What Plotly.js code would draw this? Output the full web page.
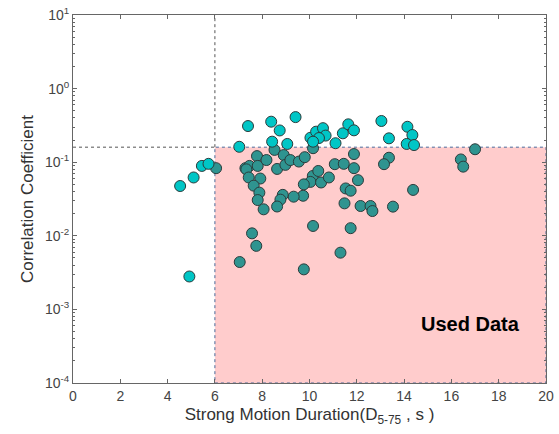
<!DOCTYPE html>
<html>
<head>
<meta charset="utf-8">
<script src="https://cdn.plot.ly/plotly-3.0.1.min.js"></script>
<style>html,body{margin:0;padding:0;background:#fff;}#chart{width:559px;height:434px;}</style>
</head>
<body>
<div id="chart"></div>
<script>
// Points outside the used region (cyan)
const outX = [4.53, 5.10, 5.45, 5.73, 4.92, 7.40, 7.03, 8.38, 9.41, 8.74, 8.42, 9.06, 10.04, 10.28, 10.57, 10.68, 10.40, 10.15, 11.10, 11.41, 11.64, 11.88, 13.04, 13.36, 14.14, 14.35, 14.11, 14.42];
const outY = [0.0475, 0.062, 0.089, 0.095, 0.0028, 0.31, 0.162, 0.355, 0.41, 0.27, 0.19, 0.177, 0.215, 0.26, 0.29, 0.23, 0.213, 0.19, 0.181, 0.247, 0.327, 0.271, 0.363, 0.211, 0.303, 0.234, 0.177, 0.171];
// Points inside the used region (teal)
const inX = [6.05, 7.78, 7.29, 7.46, 7.81, 7.33, 7.43, 7.92, 7.64, 7.88, 7.81, 8.06, 7.57, 7.75, 7.05, 8.18, 8.52, 8.63, 8.91, 8.98, 9.19, 9.55, 9.80, 10.14, 10.37, 10.04, 9.76, 10.49, 10.82, 9.73, 9.33, 8.87, 8.77, 8.63, 11.07, 11.45, 11.88, 11.88, 12.05, 11.53, 11.74, 11.48, 12.16, 12.58, 12.66, 13.53, 11.74, 11.31, 10.15, 9.76, 13.36, 13.15, 16.40, 16.50, 14.38, 17.00, 10.15];
const inY = [0.083, 0.121, 0.083, 0.089, 0.089, 0.080, 0.062, 0.060, 0.048, 0.0386, 0.0306, 0.0229, 0.0108, 0.0073, 0.0044, 0.107, 0.147, 0.081, 0.125, 0.092, 0.107, 0.102, 0.117, 0.065, 0.076, 0.054, 0.050, 0.053, 0.062, 0.035, 0.034, 0.036, 0.031, 0.025, 0.094, 0.095, 0.129, 0.083, 0.057, 0.044, 0.041, 0.0276, 0.0254, 0.0254, 0.0217, 0.0249, 0.0127, 0.0059, 0.0136, 0.0035, 0.115, 0.094, 0.109, 0.087, 0.042, 0.150, 0.155];
// Thresholds
const durationMin = 6;
const durationMax = 20;
const corrThreshold = 0.16;
// Tick labels
const yTickVals = [1e-4, 1e-3, 1e-2, 1e-1, 1, 10];
const yTickText = ['10<sup>-4</sup>', '10<sup>-3</sup>', '10<sup>-2</sup>', '10<sup>-1</sup>', '10<sup>0</sup>', '10<sup>1</sup>'];
const xTickVals = [0, 2, 4, 6, 8, 10, 12, 14, 16, 18, 20];
const yMinorVals = [2e-4,3e-4,4e-4,5e-4,6e-4,7e-4,8e-4,9e-4,2e-3,3e-3,4e-3,5e-3,6e-3,7e-3,8e-3,9e-3,2e-2,3e-2,4e-2,5e-2,6e-2,7e-2,8e-2,9e-2,0.2,0.3,0.4,0.5,0.6,0.7,0.8,0.9,2,3,4,5,6,7,8,9];

const font = 'Liberation Sans, Arial, sans-serif';
const axisCommon = {
  showline: true, linecolor: '#666', linewidth: 1, mirror: 'ticks',
  ticks: 'inside', tickcolor: '#666', ticklen: 4, showgrid: false, zeroline: false,
  tickfont: {family: font, size: 14, color: '#444'}
};

const traces = [
  {x: inX, y: inY, type: 'scatter', mode: 'markers', cliponaxis: false,
   marker: {size: 11, color: '#2f9490', line: {color: '#2b3b3b', width: 1}}, showlegend: false},
  {x: outX, y: outY, type: 'scatter', mode: 'markers', cliponaxis: false,
   marker: {size: 11, color: '#00c6c6', line: {color: '#2b3b3b', width: 1}}, showlegend: false}
];

const layout = {
  width: 559, height: 434,
  margin: {l: 73, r: 13, t: 15, b: 51},
  paper_bgcolor: '#fff', plot_bgcolor: '#fff',
  font: {family: font},
  xaxis: Object.assign({}, axisCommon, {
    range: [0, 20], tickvals: xTickVals,
    title: {text: 'Strong Motion Duration(D<sub>5-75</sub> , s )', font: {family: font, size: 17, color: '#333'}, standoff: 5}
  }),
  yaxis: Object.assign({}, axisCommon, {
    type: 'log', range: [-4, 1], tickvals: yTickVals, ticktext: yTickText,
    minor: {tickvals: yMinorVals, ticks: 'inside', ticklen: 2, tickcolor: '#666', showgrid: false},
    title: {text: 'Correlation Coefficient', font: {family: font, size: 17, color: '#333'}, standoff: 6}
  }),
  shapes: [
    {type: 'rect', xref: 'x', yref: 'y', x0: durationMin, x1: durationMax, y0: 1e-4, y1: corrThreshold,
     fillcolor: '#ffcccc', line: {color: '#4a6a9a', width: 1, dash: 'dot'}, layer: 'below'},
    {type: 'line', xref: 'x', yref: 'y', x0: 0, x1: durationMin, y0: corrThreshold, y1: corrThreshold,
     line: {color: '#555', width: 1, dash: 'dot'}, layer: 'below'},
    {type: 'line', xref: 'x', yref: 'y', x0: durationMin, x1: durationMin, y0: corrThreshold, y1: 10,
     line: {color: '#555', width: 1, dash: 'dot'}, layer: 'below'}
  ],
  annotations: [
    {xref: 'x', yref: 'y', x: 16.8, y: -3.2, text: '<b>Used Data</b>', showarrow: false,
     font: {family: font, size: 20, color: '#000'}}
  ]
};

Plotly.newPlot('chart', traces, layout, {displayModeBar: false, staticPlot: true});
</script>
</body>
</html>
